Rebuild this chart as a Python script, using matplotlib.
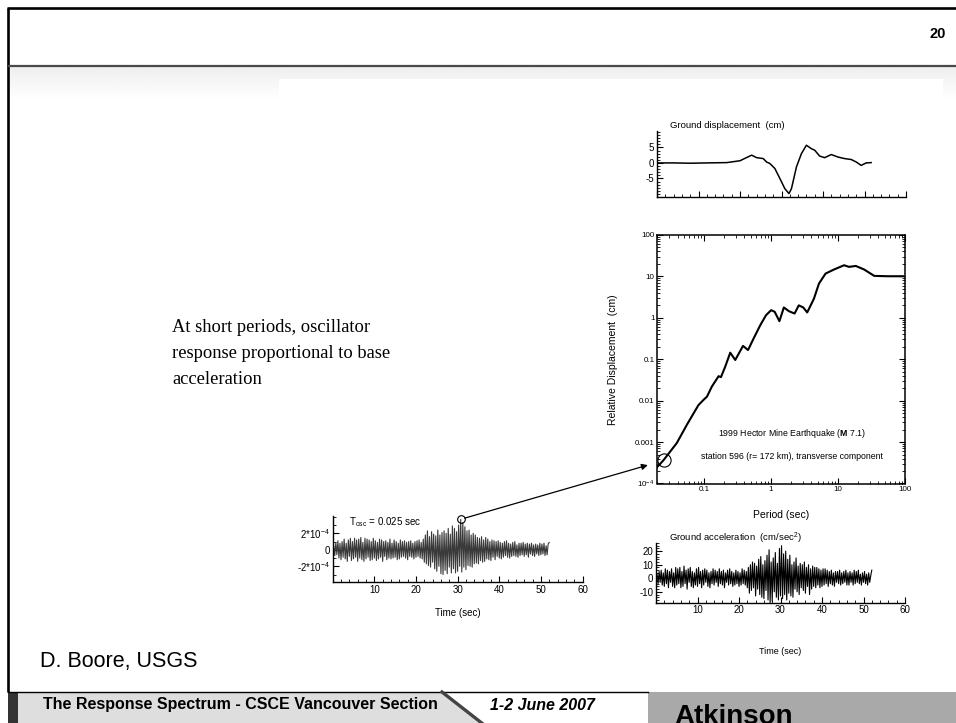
import numpy as np
import matplotlib
matplotlib.use('Agg')
import matplotlib.pyplot as plt
from matplotlib.patches import Polygon, Rectangle, ConnectionPatch
from matplotlib.ticker import MultipleLocator, FixedLocator, FixedFormatter, LogLocator, NullFormatter

plt.rcParams['font.family'] = ['Liberation Sans', 'DejaVu Sans']
plt.rcParams['mathtext.fontset'] = 'custom'
plt.rcParams['mathtext.rm'] = 'Liberation Sans'
plt.rcParams['mathtext.it'] = 'Liberation Sans:italic'
plt.rcParams['mathtext.bf'] = 'Liberation Sans:bold'
plt.rcParams['mathtext.default'] = 'regular'
plt.rcParams['axes.unicode_minus'] = False

# ---------------- data ----------------
# Ground displacement (cm) vs time (s)
disp_time = [0, 4, 8, 12, 16.8, 20, 22.8, 24, 25.6, 26.4, 27.2, 28.4, 29.6, 30.8, 31.8,
             32.4, 33.6, 34.8, 36, 37.2, 38, 39.2, 40.4, 42, 43.6, 45.2, 46.8, 48, 49.2,
             50.4, 51.6]
disp_cm = [0, 0, -0.1, 0, 0.1, 0.7, 2.5, 1.7, 1.4, 0.3, -0.2, -1.8, -5.0, -8.3, -9.9,
           -8.3, -1.3, 3.0, 5.7, 4.6, 4.1, 2.2, 1.7, 2.7, 1.9, 1.4, 1.1, 0.3, -0.8,
           0.0, 0.1]

# Response spectrum: period (s) vs relative displacement (cm)
period_s = [0.0184, 0.0245, 0.039, 0.055, 0.066, 0.082, 0.098, 0.110, 0.130, 0.164,
            0.178, 0.206, 0.245, 0.291, 0.38, 0.452, 0.549, 0.69, 0.84, 1.0, 1.13,
            1.33, 1.55, 1.84, 2.24, 2.59, 3.02, 3.46, 4.36, 5.18, 6.5, 8.7, 12.3,
            14.6, 18.4, 24.5, 34.7, 55, 95]
sd_cm = [2.2e-4, 3.6e-4, 9.5e-4, 2.6e-3, 4.3e-3, 7.8e-3, 0.0105, 0.0125, 0.0218, 0.039,
         0.037, 0.066, 0.144, 0.096, 0.21, 0.167, 0.32, 0.67, 1.16, 1.53, 1.40,
         0.83, 1.78, 1.45, 1.27, 2.0, 1.78, 1.35, 2.9, 6.7, 11.7, 14.7, 18.6,
         17.0, 17.9, 14.7, 10.3, 10.1, 10.1]

# Sample times for the two traces (s), 0.25 s spacing
trace_time = np.arange(209) * 0.25

# Ground acceleration (cm/s^2)
accel_cms2 = [
    0, 3, -4, 5, -3, 6, -5, 4, -6, 7, -4, 6, -7, 5, -3, 7, -6, 4, -7, 8,
    -5, 7, -4, 8, -7, 5, -6, 9, -4, 6, -8, 7, -3, 8, -6, 5, -7, 4, -5, 7,
    -6, 8, -4, 5, -7, 6, -5, 7, -3, 6, -6, 4, -7, 5, -4, 7, -5, 6, -3, 5,
    -6, 7, -4, 5, -5, 6, -7, 4, -3, 6, -5, 7, -4, 5, -6, 4, -5, 6, -4, 5,
    -6, 4, -5, 7, -4, 6, -5, 5, -7, 8, -11, 10, -9, 12, -7, 11, -13, 9, -8, 14,
    -12, 16, -14, 10, -15, 13, -9, 17, -16, 21, -18, 12, -17, 15, -10, 19, -14, 11, -16, 22,
    -13, 24, -15, 18, -12, 20, -16, 14, -11, 17, -13, 10, -14, 12, -8, 15, -10, 9, -12, 11,
    -7, 10, -9, 12, -11, 8, -6, 10, -12, 7, -8, 9, -6, 8, -7, 8, -5, 7, -7, 6,
    -6, 7, -5, 7, -4, 6, -6, 5, -4, 6, -5, 4, -6, 5, -3, 5, -4, 6, -5, 4,
    -4, 5, -3, 6, -5, 4, -5, 5, -3, 4, -5, 6, -4, 5, -3, 6, -4, 3, -5, 4,
    -3, 5, -4, 3, -5, 4, -3, 2, 6]

# Oscillator response (units of 1e-4 cm), T_osc = 0.025 s
osc_resp_1e4 = [
    0, 0.5, -0.7, 0.9, -0.6, 1.1, -1.0, 0.8, -1.2, 1.0, -0.9, 1.3, -1.1, 0.8, -1.4, 1.2, -0.8, 1.4, -1.3, 1.0,
    -1.1, 1.4, -0.9, 1.2, -1.4, 1.3, -1.0, 1.5, -1.2, 0.9, -1.4, 1.4, -1.1, 1.3, -0.9, 1.2, -1.3, 1.0, -1.2, 1.4,
    -1.0, 1.1, -1.3, 0.9, -1.1, 1.3, -0.9, 1.2, -1.4, 1.0, -0.8, 1.1, -1.2, 0.9, -1.0, 1.3, -1.1, 0.8, -1.0, 1.2,
    -0.9, 1.0, -1.2, 0.8, -1.1, 1.2, -0.9, 1.0, -0.8, 1.1, -1.0, 0.9, -1.2, 1.0, -0.8, 1.1, -0.9, 0.8, -1.1, 1.0,
    -0.9, 1.1, -0.8, 1.2, -1.0, 0.9, -1.1, 1.3, -1.5, 1.8, -1.7, 2.3, -1.9, 1.6, -2.1, 2.2, -1.5, 1.9, -2.3, 1.7,
    -2.6, 2.4, -2.0, 1.8, -2.9, 2.1, -3.0, 2.3, -2.5, 2.0, -2.9, 2.6, -2.1, 1.9, -2.8, 2.9, -2.3, 2.6, -2.8, 2.2,
    -2.6, 3.0, -2.0, 3.7, -2.7, 3.3, -2.1, 2.8, -2.4, 2.3, -1.9, 2.4, -2.0, 1.8, -2.1, 2.0, -1.7, 1.8, -1.6, 1.5,
    -1.7, 1.4, -1.3, 1.6, -1.5, 1.2, -1.4, 1.5, -1.1, 1.3, -1.2, 1.0, -1.3, 1.2, -0.9, 1.1, -1.2, 1.0, -0.8, 1.1,
    -1.0, 0.9, -1.1, 0.8, -0.9, 1.0, -0.7, 1.1, -0.9, 0.8, -1.0, 0.7, -0.8, 0.9, -0.7, 1.0, -0.8, 0.6, -0.9, 0.8,
    -0.7, 0.8, -0.6, 0.9, -0.8, 0.7, -0.6, 0.8, -0.9, 0.7, -0.5, 0.8, -0.7, 0.6, -0.8, 0.7, -0.5, 0.6, -0.7, 0.8,
    -0.6, 0.7, -0.5, 0.8, -0.7, 0.5, -0.6, 0.7, 0.9]

t_osc = 0.025          # oscillator period (s)
sd_at_tosc = 3.6e-4    # spectral value at T_osc (cm)
peak_time = 30.75      # time of peak oscillator response (s)
peak_value = 3.7e-4    # peak oscillator response (cm)

time_ticks = [10, 20, 30, 40, 50, 60]
spec_yticks = [1e-4, 1e-3, 1e-2, 1e-1, 1, 10, 100]
spec_ylabels = ['10$^{-4}$', '0.001', '0.01', '0.1', '1', '10', '100']
spec_xticks = [0.1, 1, 10, 100]
spec_xlabels = ['0.1', '1', '10', '100']

# ---------------- figure ----------------
W, H = 956, 723
fig = plt.figure(figsize=(W / 100, H / 100), dpi=100)


def px_axes(x0, y0, x1, y1):
    return fig.add_axes([x0 / W, 1 - y1 / H, (x1 - x0) / W, (y1 - y0) / H])


# background / slide decoration
bg = fig.add_axes([0, 0, 1, 1])
grad = np.linspace(0.935, 1.0, 60)[:, None]
bg.imshow(grad, extent=(9, 956, 100, 67), cmap='gray', vmin=0, vmax=1,
          aspect='auto', interpolation='bilinear')
bg.set_xlim(0, W)
bg.set_ylim(H, 0)
bg.axis('off')
bg.add_patch(Rectangle((279, 79), 664, 60, facecolor='white', edgecolor='none'))
bg.plot([7, 956], [8, 8], color='black', lw=1.9, solid_capstyle='butt')
bg.plot([8, 8], [8, 692], color='black', lw=1.9, solid_capstyle='butt')
bg.plot([8, 956], [65.5, 65.5], color='#4a4a4a', lw=1.6, solid_capstyle='butt')
bg.text(946, 34, '20', ha='right', va='center', fontsize=10.5, fontweight='bold')

# footer
bg.add_patch(Polygon([(18, 692), (442, 692), (482, 723), (18, 723)],
                     closed=True, facecolor='#dedede', edgecolor='none'))
bg.add_patch(Rectangle((8, 692), 10, 31, facecolor='#333333', edgecolor='none'))
bg.add_patch(Rectangle((648, 692), 308, 31, facecolor='#a9a9a9', edgecolor='none'))
bg.plot([8, 648], [692, 692], color='black', lw=1.0)
bg.plot([442, 483], [692, 724], color='#444444', lw=2.4)
bg.text(43, 705, 'The Response Spectrum - CSCE Vancouver Section', fontsize=11.5,
        fontweight='bold', va='center', ha='left')
bg.text(490, 705, '1-2 June 2007', fontsize=11.5, fontweight='bold', style='italic',
        va='center', ha='left')
bg.text(674, 724, 'Atkinson', fontsize=20, fontweight='bold', va='baseline', ha='left')
bg.text(40, 661, 'D. Boore, USGS', fontsize=15.5, va='center', ha='left')

# left explanatory text
for i, line in enumerate(['At short periods, oscillator', 'response proportional to base',
                          'acceleration']):
    bg.text(172, 327 + 26 * i, line, family=['Liberation Serif', 'DejaVu Serif'],
            fontsize=13.3, va='center', ha='left')

# ---------- ground displacement panel ----------
ax_d = px_axes(657, 131, 906, 197)
ax_d.set_facecolor('none')
ax_d.plot(disp_time, disp_cm, color='black', lw=1.1)
ax_d.set_xlim(0, 60)
ax_d.set_ylim(-11, 10.3)
ax_d.spines[['top', 'right']].set_visible(False)
ax_d.xaxis.set_major_locator(MultipleLocator(10))
ax_d.xaxis.set_minor_locator(MultipleLocator(2))
ax_d.yaxis.set_major_locator(FixedLocator([-5, 0, 5]))
ax_d.yaxis.set_minor_locator(MultipleLocator(1))
ax_d.tick_params(axis='x', labelbottom=False)
ax_d.tick_params(which='both', direction='in', labelsize=7, pad=2)
ax_d.tick_params(which='major', length=4, width=0.8)
ax_d.tick_params(which='minor', length=2, width=0.6)
for s in ax_d.spines.values():
    s.set_linewidth(1.0)
ax_d.text(0.052, 1.09, 'Ground displacement  (cm)', transform=ax_d.transAxes,
          fontsize=6.8, va='center', ha='left')

# ---------- response spectrum panel ----------
ax_s = px_axes(657.4, 235, 905, 483.5)
ax_s.set_facecolor('none')
ax_s.set_xscale('log')
ax_s.set_yscale('log')
ax_s.plot(period_s, sd_cm, color='black', lw=1.5)
ax_s.set_xlim(0.02, 100)
ax_s.set_ylim(1e-4, 100)
ax_s.xaxis.set_major_locator(FixedLocator(spec_xticks))
ax_s.xaxis.set_major_formatter(FixedFormatter(spec_xlabels))
ax_s.xaxis.set_minor_locator(LogLocator(base=10, subs=np.arange(2, 10), numticks=20))
ax_s.xaxis.set_minor_formatter(NullFormatter())
ax_s.yaxis.set_major_locator(FixedLocator(spec_yticks))
ax_s.yaxis.set_major_formatter(FixedFormatter(spec_ylabels))
ax_s.yaxis.set_minor_locator(LogLocator(base=10, subs=np.arange(2, 10), numticks=20))
ax_s.yaxis.set_minor_formatter(NullFormatter())
ax_s.tick_params(which='both', direction='in', top=True, right=True, labelsize=5.8, pad=2)
ax_s.tick_params(which='major', length=4, width=0.8)
ax_s.tick_params(which='minor', length=2, width=0.6)
for s in ax_s.spines.values():
    s.set_linewidth(1.1)
ax_s.set_xlabel('Period (sec)', fontsize=7.5)
ax_s.xaxis.set_label_coords(0.5, -0.105)
ax_s.set_ylabel('Relative Displacement  (cm)', fontsize=7.5)
ax_s.yaxis.set_label_coords(-0.16, 0.5)
ax_s.text(0.544, 0.203, r'1999 Hector Mine Earthquake ($\mathbf{M}$ 7.1)',
          transform=ax_s.transAxes, fontsize=6.3, ha='center', va='center')
ax_s.text(0.544, 0.107, 'station 596 (r= 172 km), transverse component',
          transform=ax_s.transAxes, fontsize=6.3, ha='center', va='center')
ax_s.plot([t_osc], [sd_at_tosc], marker='o', ms=9.5, mfc='none', mec='black',
          mew=0.8, clip_on=False)

# ---------- oscillator response panel ----------
ax_o = px_axes(332.7, 516, 582.5, 582)
ax_o.set_facecolor('none')
ax_o.plot(trace_time, np.array(osc_resp_1e4) * 1e-4, color='#3a3a3a', lw=0.8)
ax_o.plot([peak_time], [peak_value], marker='o', ms=5.5, mfc='none', mec='black',
          mew=0.8, clip_on=False)
ax_o.set_xlim(0, 60)
ax_o.set_ylim(-3.9e-4, 4.1e-4)
ax_o.spines[['top', 'right']].set_visible(False)
ax_o.xaxis.set_major_locator(FixedLocator(time_ticks))
ax_o.xaxis.set_minor_locator(MultipleLocator(2))
ax_o.yaxis.set_major_locator(FixedLocator([-2e-4, 0, 2e-4]))
ax_o.yaxis.set_major_formatter(FixedFormatter(['-2*10$^{-4}$', '0', '2*10$^{-4}$']))
ax_o.yaxis.set_minor_locator(MultipleLocator(1e-4))
ax_o.tick_params(which='both', direction='in', labelsize=7, pad=2)
ax_o.tick_params(which='major', length=4, width=0.8)
ax_o.tick_params(which='minor', length=2, width=0.6)
for s in ax_o.spines.values():
    s.set_linewidth(1.0)
ax_o.set_xlabel('Time (sec)', fontsize=7)
ax_o.xaxis.set_label_coords(0.5, -0.39)
ax_o.text(0.065, 0.91, 'T$_{osc}$ = 0.025 sec', transform=ax_o.transAxes,
          fontsize=7, va='center', ha='left')

# ---------- ground acceleration panel ----------
ax_a = px_axes(656, 543, 905, 602.7)
ax_a.set_facecolor('none')
ax_a.plot(trace_time, accel_cms2, color='black', lw=0.8)
ax_a.set_xlim(0, 60)
ax_a.set_ylim(-18, 26)
ax_a.spines[['top', 'right']].set_visible(False)
ax_a.xaxis.set_major_locator(FixedLocator(time_ticks))
ax_a.xaxis.set_minor_locator(MultipleLocator(2))
ax_a.yaxis.set_major_locator(FixedLocator([-10, 0, 10, 20]))
ax_a.yaxis.set_minor_locator(MultipleLocator(2))
ax_a.tick_params(which='both', direction='in', labelsize=7, pad=2)
ax_a.tick_params(which='major', length=4, width=0.8)
ax_a.tick_params(which='minor', length=2, width=0.6)
for s in ax_a.spines.values():
    s.set_linewidth(1.0)
ax_a.set_xlabel('Time (sec)', fontsize=6.5)
ax_a.xaxis.set_label_coords(0.5, -0.74)
ax_a.text(0.052, 1.08, 'Ground acceleration  (cm/sec$^2$)', transform=ax_a.transAxes,
          fontsize=6.8, va='center', ha='left')

# arrow from peak oscillator response to the spectral point
con = ConnectionPatch(xyA=(peak_time, peak_value), coordsA=ax_o.transData,
                      xyB=(t_osc, sd_at_tosc), coordsB=ax_s.transData,
                      arrowstyle='-|>', mutation_scale=9, lw=0.9, color='black',
                      shrinkA=3, shrinkB=12)
fig.add_artist(con)

fig.savefig('out.png', dpi=100)
